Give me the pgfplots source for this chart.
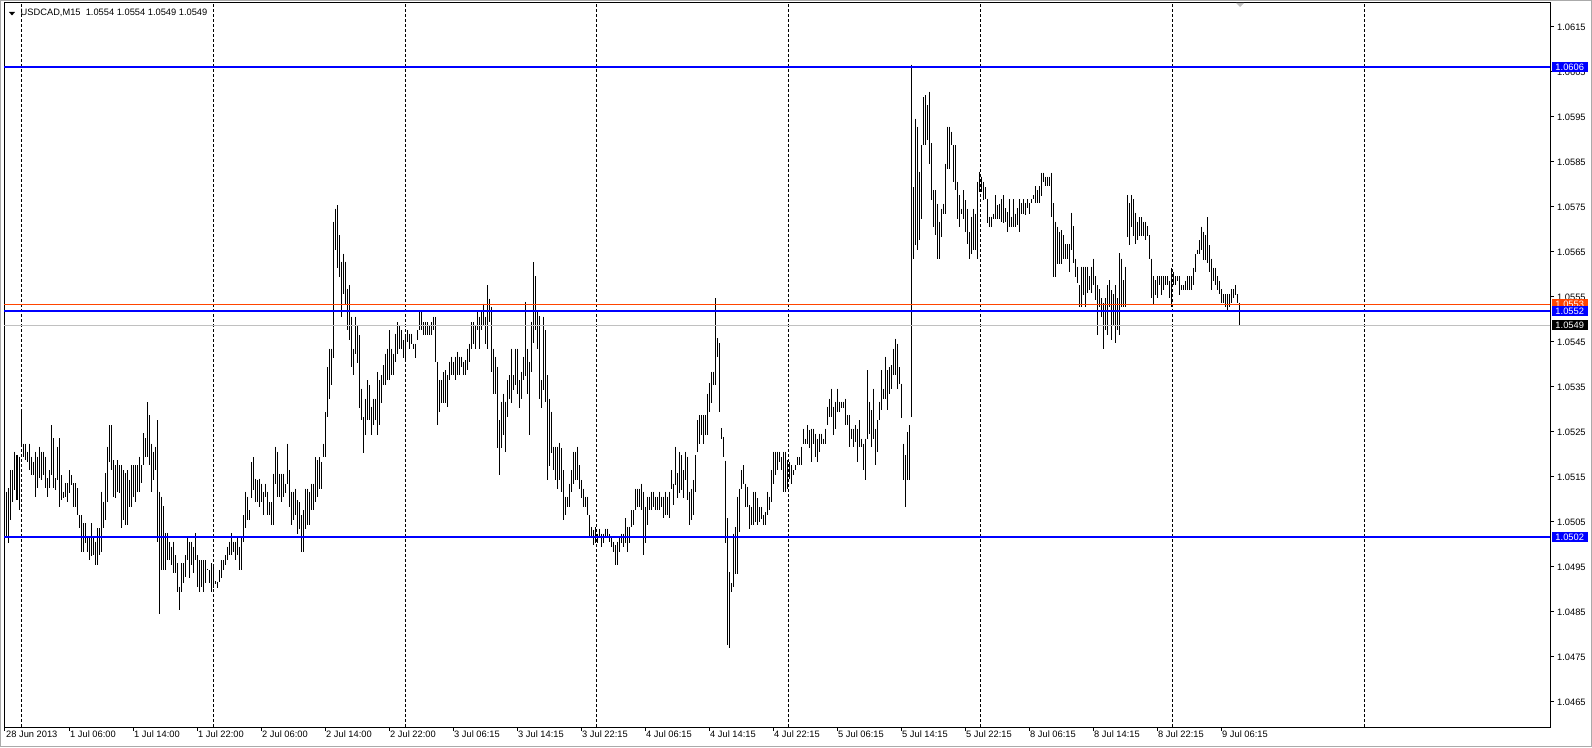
\documentclass[border=0pt]{standalone}
\usepackage{fontspec}
\setmainfont{Liberation Sans}
\usepackage{pgfplots}
\pgfplotsset{compat=1.18}
\usepackage{pgfplotstable}
\definecolor{mtblue}{RGB}{0,0,255}
\definecolor{mtorange}{RGB}{255,69,0}
\definecolor{mtbid}{RGB}{192,192,192}
\definecolor{mtframe}{RGB}{170,170,170}

% USDCAD M15 bars: x position (px), high, low
\pgfplotstableread{
x hi lo
5 1.05117 1.05002
7 1.05117 1.05017
9 1.05125 1.05004
11 1.05165 1.05054
13 1.05165 1.05095
15 1.05206 1.05121
17 1.05199 1.05099
19 1.05195 1.05076
21 1.05295 1.05224
23 1.05224 1.05195
25 1.05224 1.05187
27 1.05206 1.05184
29 1.05224 1.05165
31 1.05195 1.05154
33 1.05184 1.05154
35 1.05206 1.05106
37 1.05195 1.05125
39 1.05217 1.05147
41 1.05206 1.05143
43 1.05206 1.05154
45 1.05195 1.05125
47 1.05147 1.05106
49 1.05165 1.05125
51 1.05265 1.05154
53 1.05236 1.05125
55 1.05147 1.05121
57 1.05217 1.05143
59 1.05236 1.05084
61 1.05154 1.05099
63 1.05117 1.05102
65 1.05136 1.05106
67 1.05136 1.05095
69 1.05165 1.05113
71 1.05154 1.05132
73 1.05136 1.05084
75 1.05136 1.05084
77 1.05125 1.05065
79 1.05065 1.05036
81 1.05065 1.04984
83 1.05047 1.04984
85 1.05047 1.05002
87 1.05017 1.04984
89 1.05017 1.04965
91 1.05047 1.04973
93 1.05017 1.04976
95 1.05006 1.04954
97 1.05036 1.04954
99 1.05036 1.04976
101 1.05117 1.04984
103 1.05095 1.05036
105 1.05158 1.05054
107 1.05217 1.05095
109 1.05265 1.05184
111 1.05265 1.05165
113 1.05187 1.05106
115 1.05176 1.05102
117 1.05187 1.05117
119 1.05176 1.05113
121 1.05176 1.05036
123 1.05165 1.05054
125 1.05158 1.05043
127 1.05165 1.05043
129 1.05143 1.05084
131 1.05176 1.05084
133 1.05176 1.05106
135 1.05176 1.05095
137 1.05176 1.05117
139 1.05195 1.05117
141 1.05176 1.05136
143 1.05247 1.05176
145 1.05236 1.05195
147 1.05316 1.05195
149 1.05287 1.05176
151 1.05224 1.05117
153 1.05206 1.05143
155 1.05217 1.05165
157 1.05276 1.05006
159 1.05117 1.04845
161 1.05106 1.04943
163 1.05085 1.04943
165 1.05025 1.04943
167 1.05025 1.04965
169 1.05006 1.04965
171 1.04995 1.04954
173 1.05006 1.04936
175 1.04976 1.04936
177 1.04958 1.04895
179 1.04906 1.04854
181 1.04958 1.04895
183 1.04958 1.04913
185 1.04976 1.04928
187 1.05013 1.04965
189 1.05006 1.04925
191 1.05006 1.04954
193 1.04995 1.04936
195 1.05025 1.04965
197 1.04976 1.04906
199 1.04965 1.04895
201 1.04965 1.04906
203 1.04965 1.04895
205 1.04965 1.04913
207 1.04946 1.04942
209 1.04943 1.04913
211 1.04958 1.04895
213 1.04954 1.04902
215 1.04918 1.04912
217 1.04917 1.04902
219 1.04943 1.04917
221 1.04965 1.04925
223 1.04965 1.04943
225 1.04976 1.04954
227 1.04995 1.04965
229 1.05006 1.04976
231 1.05025 1.04976
233 1.05006 1.04984
235 1.05006 1.04965
237 1.05017 1.04976
239 1.04995 1.04943
241 1.05013 1.04943
243 1.05065 1.05006
245 1.05117 1.05036
247 1.05106 1.05054
249 1.05076 1.05054
251 1.05183 1.05102
253 1.05194 1.05120
255 1.05146 1.05094
257 1.05143 1.05094
259 1.05146 1.05083
261 1.05135 1.05094
263 1.05117 1.05065
265 1.05135 1.05106
267 1.05117 1.05065
269 1.05094 1.05065
271 1.05094 1.05043
273 1.05157 1.05043
275 1.05217 1.05135
277 1.05206 1.05106
279 1.05157 1.05106
281 1.05157 1.05094
283 1.05157 1.05106
285 1.05135 1.05113
287 1.05224 1.05135
289 1.05165 1.05083
291 1.05117 1.05043
293 1.05117 1.05054
295 1.05124 1.05065
297 1.05098 1.05024
299 1.05094 1.05035
301 1.05065 1.04983
303 1.05076 1.04983
305 1.05124 1.05035
307 1.05124 1.05043
309 1.05117 1.05043
311 1.05135 1.05076
313 1.05135 1.05076
315 1.05194 1.05094
317 1.05187 1.05106
319 1.05194 1.05124
321 1.05183 1.05124
323 1.05224 1.05194
325 1.05294 1.05194
327 1.05394 1.05283
329 1.05435 1.05324
331 1.05435 1.05354
333 1.05717 1.05413
335 1.05746 1.05654
337 1.05754 1.05613
339 1.05687 1.05594
341 1.05628 1.05506
343 1.05646 1.05557
345 1.05628 1.05535
347 1.05568 1.05476
349 1.05576 1.05454
351 1.05506 1.05394
353 1.05435 1.05376
355 1.05506 1.05424
357 1.05487 1.05402
359 1.05465 1.05302
361 1.05346 1.05276
363 1.05283 1.05202
365 1.05324 1.05243
367 1.05365 1.05276
369 1.05354 1.05276
371 1.05306 1.05243
373 1.05324 1.05265
375 1.05324 1.05276
377 1.05383 1.05243
379 1.05365 1.05265
381 1.05376 1.05313
383 1.05398 1.05354
385 1.05424 1.05354
387 1.05435 1.05365
389 1.05476 1.05365
391 1.05435 1.05376
393 1.05424 1.05376
395 1.05468 1.05406
397 1.05494 1.05424
399 1.05487 1.05435
401 1.05476 1.05435
403 1.05454 1.05413
405 1.05465 1.05406
407 1.05476 1.05450
409 1.05468 1.05435
411 1.05468 1.05446
413 1.05446 1.05435
415 1.05446 1.05413
417 1.05476 1.05454
419 1.05517 1.05476
421 1.05517 1.05476
423 1.05494 1.05465
425 1.05494 1.05465
427 1.05494 1.05465
429 1.05487 1.05465
431 1.05494 1.05465
433 1.05506 1.05476
435 1.05506 1.05406
437 1.05406 1.05265
439 1.05365 1.05294
441 1.05365 1.05313
443 1.05383 1.05313
445 1.05387 1.05313
447 1.05376 1.05306
449 1.05406 1.05365
451 1.05417 1.05376
453 1.05406 1.05376
455 1.05417 1.05365
457 1.05428 1.05376
459 1.05417 1.05376
461 1.05417 1.05394
463 1.05406 1.05376
465 1.05409 1.05376
467 1.05435 1.05387
469 1.05446 1.05406
471 1.05494 1.05435
473 1.05494 1.05446
475 1.05487 1.05435
477 1.05517 1.05476
479 1.05506 1.05435
481 1.05517 1.05476
483 1.05535 1.05487
485 1.05506 1.05446
487 1.05576 1.05435
489 1.05546 1.05494
491 1.05528 1.05383
493 1.05435 1.05335
495 1.05417 1.05335
497 1.05395 1.05213
499 1.05276 1.05154
501 1.05317 1.05213
503 1.05335 1.05243
505 1.05317 1.05206
507 1.05365 1.05284
509 1.05376 1.05324
511 1.05435 1.05313
513 1.05376 1.05343
515 1.05435 1.05354
517 1.05435 1.05335
519 1.05365 1.05302
521 1.05384 1.05324
523 1.05417 1.05365
525 1.05539 1.05374
527 1.05435 1.05335
529 1.05406 1.05243
531 1.05495 1.05384
533 1.05627 1.05447
535 1.05596 1.05476
537 1.05517 1.05435
539 1.05507 1.05324
541 1.05365 1.05302
543 1.05506 1.05343
545 1.05476 1.05317
547 1.05376 1.05143
549 1.05324 1.05173
551 1.05295 1.05202
553 1.05217 1.05165
555 1.05217 1.05143
557 1.05217 1.05124
559 1.05226 1.05143
561 1.05213 1.05117
563 1.05165 1.05054
565 1.05106 1.05065
567 1.05106 1.05084
569 1.05135 1.05084
571 1.05165 1.05117
573 1.05206 1.05135
575 1.05206 1.05143
577 1.05217 1.05143
579 1.05176 1.05124
581 1.05143 1.05102
583 1.05124 1.05084
585 1.05106 1.05084
587 1.05106 1.05065
589 1.05065 1.05015
591 1.05039 1.05015
593 1.05032 1.04998
595 1.05039 1.05002
597 1.05024 1.05002
599 1.05035 1.05013
601 1.05024 1.04995
603 1.05024 1.05002
605 1.05035 1.05013
607 1.05035 1.05017
609 1.05024 1.05006
611 1.05013 1.04995
613 1.05006 1.04984
615 1.04998 1.04954
617 1.05006 1.04954
619 1.05017 1.04984
621 1.05024 1.05002
623 1.05024 1.04995
625 1.05058 1.05002
627 1.05039 1.04984
629 1.05039 1.05002
631 1.05076 1.05039
633 1.05076 1.05043
635 1.05124 1.05076
637 1.05124 1.05084
639 1.05124 1.05084
641 1.05135 1.05076
643 1.05117 1.04976
645 1.05084 1.05002
647 1.05106 1.05043
649 1.05106 1.05076
651 1.05117 1.05076
653 1.05117 1.05084
655 1.05106 1.05076
657 1.05106 1.05076
659 1.05117 1.05076
661 1.05106 1.05084
663 1.05106 1.05058
665 1.05117 1.05065
667 1.05106 1.05065
669 1.05117 1.05058
671 1.05165 1.05124
673 1.05135 1.05087
675 1.05217 1.05132
677 1.05158 1.05102
679 1.05206 1.05113
681 1.05198 1.05121
683 1.05165 1.05102
685 1.05206 1.05143
687 1.05195 1.05098
689 1.05117 1.05043
691 1.05124 1.05054
693 1.05143 1.05065
695 1.05198 1.05117
697 1.05276 1.05206
699 1.05287 1.05224
701 1.05287 1.05243
703 1.05287 1.05224
705 1.05287 1.05243
707 1.05335 1.05243
709 1.05358 1.05295
711 1.05384 1.05313
713 1.05384 1.05354
715 1.05547 1.05354
717 1.05458 1.05417
719 1.05447 1.05295
721 1.05258 1.05235
723 1.05239 1.05195
725 1.05186 1.05002
727 1.05058 1.04776
729 1.04939 1.04769
731 1.04913 1.04895
733 1.05024 1.04906
735 1.05039 1.04935
737 1.05106 1.04935
739 1.05124 1.05028
741 1.05165 1.05124
743 1.05176 1.05135
745 1.05135 1.05084
747 1.05128 1.05084
749 1.05087 1.05035
751 1.05083 1.05043
753 1.05117 1.05043
755 1.05117 1.05050
757 1.05102 1.05043
759 1.05083 1.05050
761 1.05083 1.05057
763 1.05065 1.05043
765 1.05072 1.05043
767 1.05117 1.05065
769 1.05106 1.05076
771 1.05165 1.05094
773 1.05206 1.05135
775 1.05206 1.05154
777 1.05206 1.05165
779 1.05206 1.05183
781 1.05194 1.05165
783 1.05206 1.05117
785 1.05206 1.05117
787 1.05187 1.05124
789 1.05183 1.05146
791 1.05176 1.05135
793 1.05165 1.05154
795 1.05176 1.05165
797 1.05194 1.05176
799 1.05194 1.05176
801 1.05217 1.05176
803 1.05257 1.05224
805 1.05235 1.05224
807 1.05265 1.05224
809 1.05254 1.05213
811 1.05257 1.05183
813 1.05257 1.05224
815 1.05246 1.05194
817 1.05235 1.05183
819 1.05246 1.05206
821 1.05246 1.05224
823 1.05235 1.05224
825 1.05257 1.05224
827 1.05306 1.05265
829 1.05324 1.05283
831 1.05346 1.05283
833 1.05306 1.05243
835 1.05317 1.05257
837 1.05346 1.05294
839 1.05317 1.05294
841 1.05317 1.05302
843 1.05317 1.05302
845 1.05324 1.05265
847 1.05287 1.05265
849 1.05287 1.05217
851 1.05257 1.05235
853 1.05257 1.05217
855 1.05265 1.05228
857 1.05257 1.05183
859 1.05276 1.05217
861 1.05235 1.05217
863 1.05224 1.05165
865 1.05235 1.05143
867 1.05387 1.05235
869 1.05317 1.05246
871 1.05298 1.05217
873 1.05346 1.05235
875 1.05257 1.05176
877 1.05276 1.05206
879 1.05317 1.05276
881 1.05387 1.05298
883 1.05346 1.05324
885 1.05417 1.05324
887 1.05387 1.05298
889 1.05394 1.05335
891 1.05398 1.05346
893 1.05435 1.05376
895 1.05457 1.05376
897 1.05446 1.05346
899 1.05394 1.05357
901 1.05357 1.05280
903 1.05224 1.05143
905 1.05198 1.05083
907 1.05250 1.05143
909 1.05265 1.05143
911 1.06066 1.05283
913 1.05794 1.05635
915 1.05946 1.05665
917 1.05928 1.05654
919 1.05828 1.05676
921 1.05887 1.05724
923 1.05994 1.05887
925 1.05998 1.05887
927 1.05976 1.05898
929 1.06006 1.05846
931 1.05891 1.05765
933 1.05787 1.05706
935 1.05787 1.05687
937 1.05757 1.05635
939 1.05717 1.05635
941 1.05746 1.05683
943 1.05757 1.05735
945 1.05846 1.05735
947 1.05928 1.05835
949 1.05928 1.05835
951 1.05917 1.05887
953 1.05887 1.05806
955 1.05887 1.05787
957 1.05806 1.05724
959 1.05776 1.05706
961 1.05746 1.05735
963 1.05787 1.05724
965 1.05765 1.05694
967 1.05746 1.05668
969 1.05694 1.05635
971 1.05728 1.05646
973 1.05746 1.05654
975 1.05735 1.05654
977 1.05806 1.05635
979 1.05828 1.05783
981 1.05817 1.05783
983 1.05806 1.05765
985 1.05794 1.05768
987 1.05768 1.05713
989 1.05728 1.05706
991 1.05728 1.05706
993 1.05735 1.05724
995 1.05776 1.05724
997 1.05754 1.05724
999 1.05757 1.05724
1001 1.05767 1.05717
1003 1.05776 1.05713
1005 1.05747 1.05717
1007 1.05739 1.05695
1009 1.05767 1.05706
1011 1.05728 1.05706
1013 1.05767 1.05706
1015 1.05735 1.05706
1017 1.05747 1.05710
1019 1.05767 1.05695
1021 1.05758 1.05735
1023 1.05767 1.05735
1025 1.05758 1.05732
1027 1.05767 1.05747
1029 1.05758 1.05735
1031 1.05767 1.05758
1033 1.05776 1.05767
1035 1.05796 1.05758
1037 1.05787 1.05758
1039 1.05796 1.05758
1041 1.05826 1.05774
1043 1.05826 1.05806
1045 1.05817 1.05796
1047 1.05817 1.05796
1049 1.05817 1.05796
1051 1.05826 1.05728
1053 1.05758 1.05595
1055 1.05717 1.05595
1057 1.05706 1.05624
1059 1.05695 1.05624
1061 1.05698 1.05624
1063 1.05687 1.05635
1065 1.05667 1.05633
1067 1.05667 1.05633
1069 1.05667 1.05606
1071 1.05737 1.05655
1073 1.05707 1.05626
1075 1.05635 1.05595
1077 1.05617 1.05580
1079 1.05576 1.05528
1081 1.05617 1.05528
1083 1.05617 1.05554
1085 1.05617 1.05528
1087 1.05617 1.05558
1089 1.05596 1.05565
1091 1.05617 1.05558
1093 1.05635 1.05576
1095 1.05596 1.05543
1097 1.05576 1.05465
1099 1.05567 1.05528
1101 1.05547 1.05506
1103 1.05537 1.05435
1105 1.05547 1.05476
1107 1.05576 1.05465
1109 1.05587 1.05528
1111 1.05565 1.05454
1113 1.05556 1.05485
1115 1.05576 1.05447
1117 1.05547 1.05476
1119 1.05647 1.05465
1121 1.05635 1.05528
1123 1.05587 1.05528
1125 1.05617 1.05528
1127 1.05776 1.05684
1129 1.05758 1.05665
1131 1.05776 1.05706
1133 1.05767 1.05685
1135 1.05737 1.05667
1137 1.05717 1.05676
1139 1.05727 1.05685
1141 1.05727 1.05685
1143 1.05717 1.05685
1145 1.05717 1.05676
1147 1.05707 1.05685
1149 1.05687 1.05635
1151 1.05635 1.05547
1153 1.05596 1.05535
1155 1.05587 1.05554
1157 1.05596 1.05547
1159 1.05596 1.05576
1161 1.05596 1.05554
1163 1.05596 1.05565
1165 1.05596 1.05576
1167 1.05596 1.05576
1169 1.05586 1.05547
1171 1.05615 1.05528
1173 1.05606 1.05576
1175 1.05596 1.05576
1177 1.05596 1.05586
1179 1.05596 1.05554
1181 1.05576 1.05565
1183 1.05576 1.05565
1185 1.05586 1.05565
1187 1.05596 1.05565
1189 1.05596 1.05565
1191 1.05596 1.05565
1193 1.05615 1.05576
1195 1.05645 1.05606
1197 1.05655 1.05645
1199 1.05676 1.05645
1201 1.05706 1.05655
1203 1.05695 1.05632
1205 1.05687 1.05632
1207 1.05727 1.05626
1209 1.05665 1.05606
1211 1.05635 1.05565
1213 1.05615 1.05586
1215 1.05615 1.05576
1217 1.05596 1.05565
1219 1.05586 1.05556
1221 1.05567 1.05537
1223 1.05556 1.05537
1225 1.05556 1.05528
1227 1.05556 1.05517
1229 1.05556 1.05528
1231 1.05567 1.05537
1233 1.05567 1.05547
1235 1.05576 1.05554
1237 1.05556 1.05537
1239 1.05537 1.05485
}\bars

\begin{document}
\begin{tikzpicture}[font=\fontsize{9.3}{10}\selectfont]
\begin{axis}[
  name=ax, set layers, scale only axis, clip=false,
  width=1545.5pt, height=724pt,
  xmin=4.5, xmax=1550, ymin=1.04594, ymax=1.06203,
  axis line style={black, line width=1pt},
  xtick pos=bottom, ytick pos=right, yticklabel pos=right,
  tick align=outside, major tick length=4pt,
  tick style={black, line width=1pt},
  xtick={5,69,...,1221},
  xticklabels={28 Jun 2013,1 Jul 06:00,1 Jul 14:00,1 Jul 22:00,2 Jul 06:00,2 Jul 14:00,2 Jul 22:00,3 Jul 06:15,3 Jul 14:15,3 Jul 22:15,4 Jul 06:15,4 Jul 14:15,4 Jul 22:15,5 Jul 06:15,5 Jul 14:15,5 Jul 22:15,8 Jul 06:15,8 Jul 14:15,8 Jul 22:15,9 Jul 06:15},
  xticklabel style={anchor=north west, inner sep=0pt, xshift=1pt, font=\fontsize{9.3}{10}\selectfont},
  ytick={1.0465,1.0475,1.0485,1.0495,1.0505,1.0515,1.0525,1.0535,1.0545,1.0555,1.0565,1.0575,1.0585,1.0595,1.0605,1.0615},
  yticklabel style={anchor=west, inner sep=0pt, xshift=3pt, font=\fontsize{9.3}{10}\selectfont},
  /pgf/number format/assume math mode=true,
  /pgf/number format/fixed, /pgf/number format/fixed zerofill, /pgf/number format/precision=4,
  extra x ticks={21,213,405,596,788,980,1172,1364}, extra x tick labels={},
  extra x tick style={grid=major, major tick length=0pt},
  major grid style={black, line width=1pt, dash pattern=on 3pt off 2pt},
]
% high-low bars
\addplot[draw=none, mark=none,
  error bars/.cd, y dir=minus, y explicit, error mark=none,
  error bar style={draw=black, solid, line width=1pt}]
  table[x=x, y=hi, y error expr=\thisrow{hi}-\thisrow{lo}] {\bars};

\addplot[mtbid, line width=1pt] coordinates {(4.5,1.05487) (1550,1.05487)};
\addplot[mtorange, line width=1pt] coordinates {(4.5,1.05534) (1550,1.05534)};
\addplot[mtblue, line width=2pt] coordinates {(4.5,1.05518) (1550,1.05518)};
\addplot[mtblue, line width=2pt] coordinates {(4.5,1.06061) (1550,1.06061)};
\addplot[mtblue, line width=2pt] coordinates {(4.5,1.05016) (1550,1.05016)};

\begin{pgfonlayer}{axis foreground}
\node[fill=mtblue, text=white, anchor=west, minimum width=36pt, minimum height=10.5pt, inner sep=0pt] at (axis cs:1551.5,1.06061) {1.0606};
\node[fill=mtorange, text=white, anchor=west, minimum width=36pt, minimum height=10.5pt, inner sep=0pt] at (axis cs:1551.5,1.05534) {1.0553};
\node[fill=mtblue, text=white, anchor=west, minimum width=36pt, minimum height=10.5pt, inner sep=0pt] at (axis cs:1551.5,1.05518) {1.0552};
\node[fill=black, text=white, anchor=west, minimum width=36pt, minimum height=10.5pt, inner sep=0pt] at (axis cs:1551.5,1.05487) {1.0549};
\node[fill=mtblue, text=white, anchor=west, minimum width=36pt, minimum height=10.5pt, inner sep=0pt] at (axis cs:1551.5,1.05016) {1.0502};
\end{pgfonlayer}
\end{axis}

% chart header and frame
\fill ([xshift=4.5pt,yshift=-9pt]ax.north west) -- ++(6pt,0) -- ++(-3pt,-3.5pt) -- cycle;
\node[anchor=west, inner sep=0pt] at ([xshift=16pt,yshift=-10.3pt]ax.north west)
  {USDCAD,M15\ \ 1.0554 1.0554 1.0549 1.0549};
\fill[mtbid] ([xshift=1231.5pt]ax.north west) -- ++(8pt,0) -- ++(-4pt,-4pt) -- cycle;
\draw[mtframe, line width=1pt] ([xshift=-4pt,yshift=-19.5pt]ax.south west) rectangle ([xshift=41.5pt,yshift=2.5pt]ax.north east);
\pgfresetboundingbox
\path ([xshift=-4.5pt,yshift=-20pt]ax.south west) rectangle ([xshift=42pt,yshift=3pt]ax.north east);
\end{tikzpicture}
\end{document}
